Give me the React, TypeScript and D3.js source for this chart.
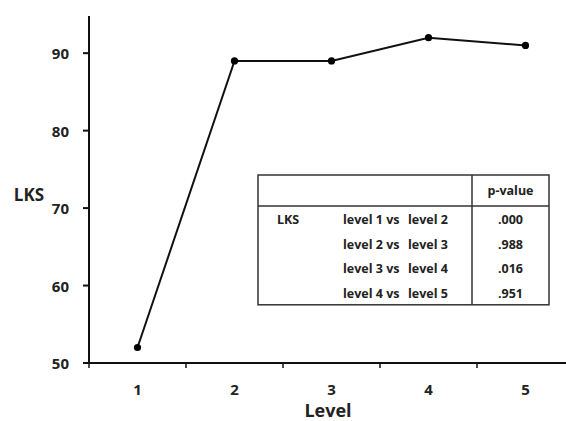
import React, { useEffect, useRef } from 'react';
import * as d3 from 'd3';

const LEVELS = ['1', '2', '3', '4', '5'];
const LKS = [52, 89, 89, 92, 91];
const Y_TICKS = [50, 60, 70, 80, 90];
const COMPARISONS = ['level 1 vs  level 2', 'level 2 vs  level 3', 'level 3 vs  level 4', 'level 4 vs  level 5'];
const P_VALUES = ['.000', '.988', '.016', '.951'];

export default function App() {
  const svgRef = useRef<SVGSVGElement | null>(null);
  const W = 566;
  const H = 421;

  useEffect(() => {
    const svg = d3.select(svgRef.current);
    svg.selectAll('*').remove();

    const font = "'Open Sans', sans-serif";

    const x = d3.scaleBand<string>().domain(LEVELS).range([89, 574]).padding(0);
    const y = d3.scaleLinear().domain([50, 94.8]).range([363, 16]);

    const axisColor = '#111';

    // y axis
    svg.append('line')
      .attr('x1', 89).attr('x2', 89)
      .attr('y1', y(50)).attr('y2', y.range()[1])
      .attr('stroke', axisColor).attr('stroke-width', 2);
    Y_TICKS.forEach(t => {
      svg.append('line')
        .attr('x1', 83).attr('x2', 89)
        .attr('y1', y(t)).attr('y2', y(t))
        .attr('stroke', axisColor).attr('stroke-width', 2);
      svg.append('text')
        .attr('x', 69).attr('y', y(t))
        .attr('text-anchor', 'end')
        .attr('dominant-baseline', 'central')
        .style('font-family', font).style('font-size', '15px').style('font-weight', '700')
        .style('fill', '#222')
        .text(t);
    });

    // x axis
    svg.append('line')
      .attr('x1', 83).attr('x2', x.range()[1])
      .attr('y1', y(50)).attr('y2', y(50))
      .attr('stroke', axisColor).attr('stroke-width', 2);
    LEVELS.forEach(l => {
      const bx = x(l)!;
      svg.append('line')
        .attr('x1', bx).attr('x2', bx)
        .attr('y1', y(50)).attr('y2', y(50) + 5)
        .attr('stroke', axisColor).attr('stroke-width', 1.5);
      svg.append('text')
        .attr('x', bx + x.bandwidth() / 2).attr('y', 389)
        .attr('text-anchor', 'middle')
        .attr('dominant-baseline', 'central')
        .style('font-family', font).style('font-size', '15px').style('font-weight', '700')
        .style('fill', '#222')
        .text(l);
    });

    // axis titles
    svg.append('text')
      .attr('x', 29).attr('y', 194)
      .attr('text-anchor', 'middle')
      .attr('dominant-baseline', 'central')
      .style('font-family', font).style('font-size', '17px').style('font-weight', '700')
      .style('fill', '#222')
      .text('LKS');
    svg.append('text')
      .attr('x', 328).attr('y', 410)
      .attr('text-anchor', 'middle')
      .attr('dominant-baseline', 'central')
      .style('font-family', font).style('font-size', '18px').style('font-weight', '700')
      .style('fill', '#222')
      .text('Level');

    // line + points
    const pts = LEVELS.map((l, i) => [x(l)! + x.bandwidth() / 2, y(LKS[i])] as [number, number]);
    svg.append('path')
      .attr('d', d3.line()(pts))
      .attr('fill', 'none')
      .attr('stroke', '#111')
      .attr('stroke-width', 2);
    svg.selectAll('circle.pt')
      .data(pts)
      .join('circle')
      .attr('class', 'pt')
      .attr('cx', d => d[0]).attr('cy', d => d[1])
      .attr('r', 3.6)
      .attr('fill', '#000');

    // table
    const tx = 258, ty = 175, tw = 291, divX = 472, headH = 31, rowH = 24.7;
    const tableH = headH + rowH * COMPARISONS.length;
    const tg = svg.append('g');
    tg.append('rect')
      .attr('x', tx).attr('y', ty).attr('width', tw).attr('height', tableH)
      .attr('fill', '#fff').attr('stroke', '#333').attr('stroke-width', 1.5);
    tg.append('line')
      .attr('x1', tx).attr('x2', tx + tw)
      .attr('y1', ty + headH).attr('y2', ty + headH)
      .attr('stroke', '#333').attr('stroke-width', 1.5);
    tg.append('line')
      .attr('x1', divX).attr('x2', divX)
      .attr('y1', ty).attr('y2', ty + tableH)
      .attr('stroke', '#333').attr('stroke-width', 1.5);

    const txt = (sx: number, sy: number, s: string, anchor = 'start') =>
      tg.append('text')
        .attr('x', sx).attr('y', sy)
        .attr('text-anchor', anchor)
        .attr('dominant-baseline', 'central')
        .style('font-family', font).style('font-size', '12.5px').style('font-weight', '700')
        .style('fill', '#222')
        .text(s);

    txt((divX + tx + tw) / 2, ty + headH / 2, 'p-value', 'middle');
    txt(277, ty + headH + rowH / 2 + 1, 'LKS');
    COMPARISONS.forEach((c, i) => {
      const cy = ty + headH + rowH * i + rowH / 2 + 1;
      const [a, b] = c.split('  ');
      txt(343, cy, a);
      txt(408, cy, b);
      txt((divX + tx + tw) / 2, cy, P_VALUES[i], 'middle');
    });
  }, []);

  return (
    <svg ref={svgRef} width={W} height={H}
      style={{ position: 'absolute', left: 0, top: 0, background: '#fff' }} />
  );
}
